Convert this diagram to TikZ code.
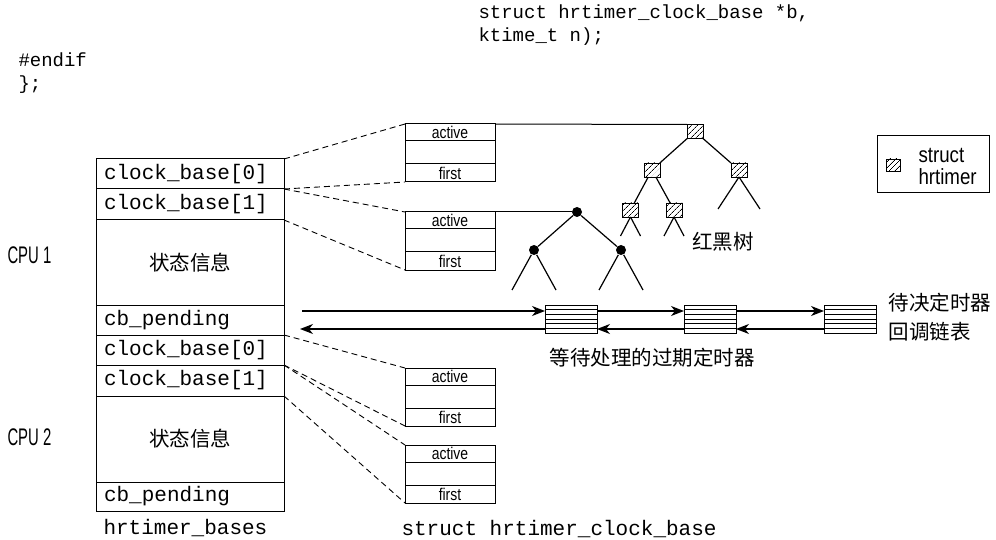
\documentclass[tikz,border=0pt]{standalone}
\usepackage{fontspec}
\newfontfamily\cjk{Noto Sans CJK SC}
\newfontfamily\monof{Liberation Mono}
\newfontfamily\narrowf[FakeStretch=0.82]{Liberation Sans}
\newfontfamily\legf[FakeStretch=0.85]{Liberation Sans}
\newfontfamily\cpuf[FakeStretch=0.62]{Liberation Sans}
\usetikzlibrary{arrows.meta,patterns.meta,calc}
\newcommand\clockbox[2]{%
  \node[sb,minimum height=17pt] (#1a) at (450,#2+8.5) {active};
  \node[sb,minimum height=23pt,anchor=north] (#1b) at (#1a.south) {};
  \node[sb,minimum height=18pt,anchor=north] (#1c) at (#1b.south) {first};
}
\newcommand\stripes[1]{%
  \foreach \i in {1,...,5} {\draw ($(#1.north west)+(0,{\i*28/6})$) -- ++(52,0);}
}
\begin{document}
\begin{tikzpicture}[x=1pt,y=-1pt,line width=1pt,
  row/.style={draw, minimum width=188pt, inner sep=0pt, inner xsep=8pt, outer sep=0pt,
    text width=172pt, align=left, font=\monof\fontsize{21}{24}\selectfont},
  strow/.style={row, align=center, font=\cjk\fontsize{20.5}{24}\selectfont},
  sb/.style={draw, minimum width=90pt, inner sep=0pt, outer sep=0pt,
    font=\narrowf\fontsize{17}{17}\selectfont},
  hs/.style={draw, line width=0.8pt, pattern={Lines[angle=45,distance=4pt,line width=0.8pt]},
    minimum width=16pt, minimum height=14pt, inner sep=0pt, outer sep=0pt},
  dot/.style={circle, fill, inner sep=0pt, minimum size=10pt},
  pb/.style={draw, minimum width=52pt, minimum height=28pt, inner sep=0pt, outer sep=0pt},
  dl/.style={dash pattern=on 6pt off 4pt, line width=0.9pt},
  arr/.style={line width=1.4pt, -{Stealth[length=13pt,width=10pt,inset=4pt]}},
  code/.style={inner sep=0pt, anchor=base west, font=\monof\fontsize{19}{23}\selectfont},
  cn/.style={inner sep=0pt, font=\cjk\fontsize{20.5}{24}\selectfont},
  cpu/.style={inner sep=0pt, anchor=base west, font=\cpuf\fontsize{24}{26}\selectfont},
  tl/.style={line width=1.2pt}]
\fill[white] (0,0) rectangle (996,540);
\useasboundingbox (0,0) rectangle (996,540);

% top code
\node[code] (c1) at (478,19) {struct hrtimer\_clock\_base *b,};
\node[code] (c2) at (478,42) {ktime\_t n);};
\node[code] (c3) at (18,67) {\#endif};
\node[code] (c4) at (18,90) {\};};

% hrtimer_bases
\node[row, minimum height=30pt] (cb0a) at (190,174) {clock\_base[0]};
\node[row, minimum height=31pt, anchor=north] (cb1a) at (cb0a.south) {clock\_base[1]};
\node[strow, minimum height=85pt, anchor=north] (st1) at (cb1a.south) {状态信息};
\node[row, minimum height=30pt, anchor=north] (pd1) at (st1.south) {cb\_pending};
\node[row, minimum height=30pt, anchor=north] (cb0b) at (pd1.south) {clock\_base[0]};
\node[row, minimum height=31pt, anchor=north] (cb1b) at (cb0b.south) {clock\_base[1]};
\node[strow, minimum height=86pt, anchor=north] (st2) at (cb1b.south) {状态信息};
\node[row, minimum height=29pt, anchor=north] (pd2) at (st2.south) {cb\_pending};

\node[cpu] (cpu1) at (7,263) {CPU 1};
\node[cpu] (cpu2) at (7,445) {CPU 2};

\node[code, font=\monof\fontsize{21}{24}\selectfont] (lb1) at (103,534) {hrtimer\_bases};
\node[code, font=\monof\fontsize{21}{24}\selectfont] (lb2) at (401,535) {struct hrtimer\_clock\_base};

% clock base boxes
\clockbox{A}{124}
\clockbox{B}{212}
\clockbox{C}{368}
\clockbox{D}{445}

\draw[dl] (cb0a.north east) -- (Aa.north west);
\draw[dl] (cb0a.south east) -- (Ac.south west);
\draw[dl] (cb1a.north east) -- (Ba.north west);
\draw[dl] (cb1a.south east) -- (Bc.south west);
\draw[dl] (cb0b.north east) -- (Ca.north west);
\draw[dl] (cb0b.south east) -- (Cc.south west);
\draw[dl] (cb1b.north east) -- (Da.north west);
\draw[dl] (cb1b.south east) -- (Dc.south west);

% hatched tree
\node[hs] (r) at (695,131.5) {};
\node[hs] (l) at (652,170) {};
\node[hs] (rr) at (739,170) {};
\node[hs] (ll) at (630.5,210) {};
\node[hs] (lr) at (674,210) {};
\draw (Aa.north east) -- (r.north west);
\draw[tl] (r) -- (l);
\draw[tl] (r) -- (rr);
\draw[tl] (l) -- (ll);
\draw[tl] (l) -- (lr);
\draw[tl] (rr.south) -- ++(-21,32);
\draw[tl] (rr.south) -- ++(21,32);
\draw[tl] (ll.south) -- ++(-10,19);
\draw[tl] (ll.south) -- ++(10,19);
\draw[tl] (lr.south) -- ++(-10,19);
\draw[tl] (lr.south) -- ++(10,19);
\node[cn] (rbt) at (723,242) {红黑树};

% dot tree
\node[dot] (d0) at (577,212) {};
\node[dot] (d1) at (534,250) {};
\node[dot] (d2) at (621,250) {};
\draw (Ba.north east) -- (d0);
\draw[tl] (d0) -- (d1);
\draw[tl] (d0) -- (d2);
\draw[tl] (d1) -- ++(-22,40);
\draw[tl] (d1) -- ++(22,40);
\draw[tl] (d2) -- ++(-22,40);
\draw[tl] (d2) -- ++(22,40);

% legend
\node[draw, minimum width=112pt, minimum height=57pt, inner sep=0pt] (leg) at (933,164.5) {};
\node[hs, minimum width=14pt, minimum height=12pt] (legsq) at (893,165) {};
\node[inner sep=0pt, anchor=base west, align=left, font=\legf\fontsize{22}{22}\selectfont] (legt) at (918,185) {struct\\hrtimer};

% pending list
\node[pb] (p1) at (571,319) {};
\node[pb] (p2) at (710,319) {};
\node[pb] (p3) at (850,319) {};
\stripes{p1}
\stripes{p2}
\stripes{p3}
\coordinate (s1) at (302,311);
\coordinate (e1) at (300,329);
\draw[arr] (s1) -- (s1 -| p1.west);
\draw[arr] (p1.east |- s1) -- (p2.west |- s1);
\draw[arr] (p2.east |- s1) -- (p3.west |- s1);
\draw[arr] (p1.west |- e1) -- (e1);
\draw[arr] (p2.west |- e1) -- (p1.east |- e1);
\draw[arr] (p3.west |- e1) -- (p2.east |- e1);

\node[cn] (wait) at (652,358) {等待处理的过期定时器};
\node[cn, anchor=west] (cb1t) at (888,303) {待决定时器};
\node[cn, anchor=west] (cb2t) at (888,332) {回调链表};
\end{tikzpicture}
\end{document}
